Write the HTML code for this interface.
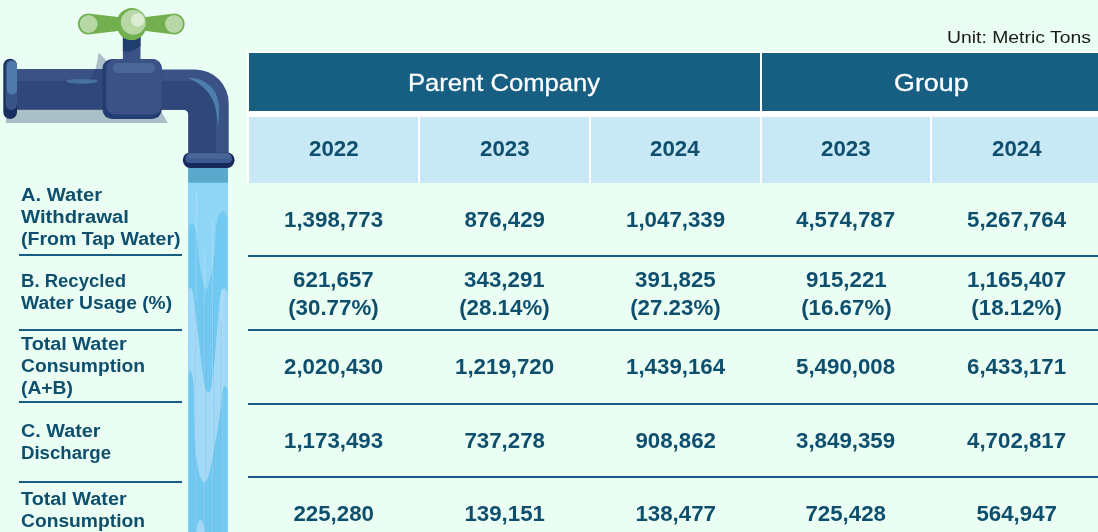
<!DOCTYPE html>
<html><head><meta charset="utf-8">
<style>
html,body{margin:0;padding:0;}
body{width:1098px;height:532px;overflow:hidden;background:#EBFEF3;position:relative;font-family:"Liberation Sans",sans-serif;}
.abs{position:absolute;}
.hdr{position:absolute;background:#165E82;color:#fff;font-size:24px;text-align:center;line-height:58px;top:53px;height:58px;}
.sub{position:absolute;background:#C9E8F5;top:117px;height:65.5px;color:#0F4F6E;font-weight:bold;font-size:21.4px;text-align:center;line-height:65px;}
.white{position:absolute;background:#fff;}
.num{position:absolute;width:170px;text-align:center;color:#0F4F6E;font-weight:bold;font-size:21.4px;line-height:27.5px;white-space:nowrap;}
.lbl{position:absolute;left:21px;color:#0F4F6E;font-weight:bold;font-size:18px;line-height:22px;white-space:nowrap;}
.num span,.sub span{display:inline-block;transform:scaleX(1.042);}
.hdr span{display:inline-block;-webkit-text-stroke:0.3px #fff;}
.lbl span{display:block;transform-origin:0 50%;}
.ln{position:absolute;background:#185C82;height:2px;}
</style></head><body>
<!-- white frame behind table header -->
<div class="white" style="left:247px;top:51px;width:860px;height:131.5px;"></div>
<div class="hdr" style="left:249px;width:510.5px;"><span style="transform:scaleX(1.066);position:relative;top:1px;">Parent Company</span></div>
<div class="hdr" style="left:761.5px;width:340px;"><span style="transform:scaleX(1.119);position:relative;top:1px;">Group</span></div>
<div class="sub" style="left:249px;width:169px;"><span>2022</span></div>
<div class="sub" style="left:420px;width:169px;"><span>2023</span></div>
<div class="sub" style="left:591px;width:168.5px;"><span>2024</span></div>
<div class="sub" style="left:761.5px;width:168.5px;"><span>2023</span></div>
<div class="sub" style="left:932px;width:170px;"><span>2024</span></div>
<div class="abs" style="right:7px;top:27.5px;font-size:16px;color:#1a1a1a;line-height:20px;transform:scaleX(1.21);transform-origin:100% 50%;">Unit: Metric Tons</div>

<!-- lines -->
<div class="ln" style="left:19px;width:163px;top:254px;"></div>
<div class="ln" style="left:19px;width:163px;top:329px;"></div>
<div class="ln" style="left:19px;width:163px;top:401px;"></div>
<div class="ln" style="left:19px;width:163px;top:481px;"></div>
<div class="ln" style="left:248px;width:860px;top:254.7px;"></div>
<div class="ln" style="left:248px;width:860px;top:329px;"></div>
<div class="ln" style="left:248px;width:860px;top:402.5px;"></div>
<div class="ln" style="left:248px;width:860px;top:476px;"></div>

<!-- labels -->
<div class="lbl" style="top:184.3px;"><span style="transform:scaleX(1.12)">A. Water</span><span style="transform:scaleX(1.125)">Withdrawal</span><span style="transform:scaleX(1.085)">(From Tap Water)</span></div>
<div class="lbl" style="top:270.4px;"><span style="transform:scaleX(1.029)">B. Recycled</span><span style="transform:scaleX(1.069)">Water Usage (%)</span></div>
<div class="lbl" style="top:333.4px;"><span style="transform:scaleX(1.1)">Total Water</span><span style="transform:scaleX(1.069)">Consumption</span><span style="transform:scaleX(1.07)">(A+B)</span></div>
<div class="lbl" style="top:420.4px;"><span style="transform:scaleX(1.1)">C. Water</span><span style="transform:scaleX(1.034)">Discharge</span></div>
<div class="lbl" style="top:488.2px;"><span style="transform:scaleX(1.1)">Total Water</span><span style="transform:scaleX(1.069)">Consumption</span></div>

<!-- numbers -->
<div class="num" style="left:248.5px;top:206.5px;"><span>1,398,773</span></div>
<div class="num" style="left:419.5px;top:206.5px;"><span>876,429</span></div>
<div class="num" style="left:590.5px;top:206.5px;"><span>1,047,339</span></div>
<div class="num" style="left:761px;top:206.5px;"><span>4,574,787</span></div>
<div class="num" style="left:932px;top:206.5px;"><span>5,267,764</span></div>

<div class="num" style="left:248.5px;top:267px;"><span>621,657<br>(30.77%)</span></div>
<div class="num" style="left:419.5px;top:267px;"><span>343,291<br>(28.14%)</span></div>
<div class="num" style="left:590.5px;top:267px;"><span>391,825<br>(27.23%)</span></div>
<div class="num" style="left:761px;top:267px;"><span>915,221<br>(16.67%)</span></div>
<div class="num" style="left:932px;top:267px;"><span>1,165,407<br>(18.12%)</span></div>

<div class="num" style="left:248.5px;top:354px;"><span>2,020,430</span></div>
<div class="num" style="left:419.5px;top:354px;"><span>1,219,720</span></div>
<div class="num" style="left:590.5px;top:354px;"><span>1,439,164</span></div>
<div class="num" style="left:761px;top:354px;"><span>5,490,008</span></div>
<div class="num" style="left:932px;top:354px;"><span>6,433,171</span></div>

<div class="num" style="left:248.5px;top:427.5px;"><span>1,173,493</span></div>
<div class="num" style="left:419.5px;top:427.5px;"><span>737,278</span></div>
<div class="num" style="left:590.5px;top:427.5px;"><span>908,862</span></div>
<div class="num" style="left:761px;top:427.5px;"><span>3,849,359</span></div>
<div class="num" style="left:932px;top:427.5px;"><span>4,702,817</span></div>

<div class="num" style="left:248.5px;top:501.3px;"><span>225,280</span></div>
<div class="num" style="left:419.5px;top:501.3px;"><span>139,151</span></div>
<div class="num" style="left:590.5px;top:501.3px;"><span>138,477</span></div>
<div class="num" style="left:761px;top:501.3px;"><span>725,428</span></div>
<div class="num" style="left:932px;top:501.3px;"><span>564,947</span></div>

<!--FAUCET_START-->
<svg class="abs" style="left:0;top:0;" width="260" height="532" viewBox="0 0 260 532">
<!-- shadow -->
<path d="M6 109 H160 L167.8 123 H6 Z" fill="#ABBFC6"/>
<path d="M98.6 52.6 L106 60 V72 H94.5 C96.5 66 97.8 59 98.6 52.6 Z" fill="#ABBFC6"/>
<!-- horizontal pipe -->
<rect x="12" y="69.2" width="95" height="40.6" fill="#2F4779"/>
<rect x="12" y="69.2" width="95" height="11.8" fill="#3A5285"/>
<path d="M94.5 69.2 C 93.5 75, 91 79, 86 81 H106 V69.2 Z" fill="#33497B"/>
<ellipse cx="82" cy="81.3" rx="15.6" ry="2.4" fill="#47719F"/>
<!-- flange -->
<rect x="3.3" y="58.7" width="13.7" height="60.2" rx="6.8" fill="#18305F"/>
<path d="M5.6 65.5 a5.7 5.7 0 0 1 11.4 0 V104.3 a5.7 5.7 0 0 1 -11.4 0 Z" fill="#3A5488"/>
<path d="M6.9 66 a5 5 0 0 1 10.1 0 V89.5 a5 5 0 0 1 -10.1 0 Z" fill="#4E7BAB"/>
<!-- elbow -->
<path d="M158 69.5 H195 A33.7 33.7 0 0 1 228.7 103.2 V156 H188.4 V115 Q188.4 109.8 183 109.8 H158 Z" fill="#3A5285"/>
<path d="M158 81 H191 A24.8 24.8 0 0 1 215.8 105.8 V156 H188.4 V115 Q188.4 109.8 183 109.8 H158 Z" fill="#2F4779"/>
<path d="M188 77.7 C 197 77.5, 207 81, 213.6 90 C 219 97.5, 220.5 110, 218 127.6 C 217.5 115, 215.5 104, 210.6 96 C 205 87, 197 82, 188 77.7 Z" fill="#4D7FAE"/>
<!-- valve body -->
<rect x="102.5" y="59" width="59.2" height="60" rx="9.5" fill="#233E72"/>
<path d="M106.2 68 a9 9 0 0 1 9 -9 H152.7 a9 9 0 0 1 9 9 V105.5 a9 9 0 0 1 -9 9 H115.2 a9 9 0 0 1 -9 -9 Z" fill="#3A5285"/>
<rect x="113" y="63" width="42" height="10" rx="4.5" fill="#4A6598"/>
<!-- stem -->
<rect x="122.9" y="34" width="17.6" height="26" fill="#3A5285"/>
<path d="M122.9 34 H140.5 V45.8 Q132 53.5 122.9 51 Z" fill="#1F3E6E"/>
<!-- handle -->
<path d="M88.3 13.5 L120 17.3 V30.7 L88.3 34.5 A10.5 10.5 0 0 1 88.3 13.5 Z" fill="#73AF4F"/>
<path d="M174.2 13.5 L144 17.3 V30.7 L174.2 34.5 A10.5 10.5 0 0 0 174.2 13.5 Z" fill="#73AF4F"/>
<ellipse cx="131.7" cy="24" rx="15.1" ry="16.1" fill="#73AF4F"/>
<circle cx="88.6" cy="24" r="8.9" fill="#B7D8A4"/>
<circle cx="174" cy="24" r="9" fill="#B7D8A4"/>
<circle cx="133.3" cy="22.2" r="12.4" fill="#B7D8A4"/>
<circle cx="137.6" cy="20" r="6.7" fill="#DCEBD3"/>
<!-- water -->
<rect x="188.2" y="167" width="39.7" height="366" fill="#71C8F0"/>
<path d="M188.2 182.6 H227.9 V222 C 226 206, 217 206, 215.5 235 C 214.5 260, 211 283, 206 290 C 202 283, 199 262, 197.5 245 C 196 220, 190 218, 188.2 232 Z" fill="#8FD5F5"/>
<path d="M188.2 296 C 188.6 285, 192.5 284, 194 300 C 195.5 315, 197.5 330, 198.8 340 C 200.5 355, 202.5 375, 204.5 385 C 205.5 390, 207 392, 208.5 392 C 210 392, 211.3 389, 212.3 382 C 214 368, 215.3 352, 216.3 340 C 217.5 326, 218.8 312, 219.7 300 C 221 285, 227 285, 227.9 297 V392 C 226.5 383, 223 383, 222 395 C 220 420, 214 450, 210 470 C 208.5 478, 206.5 482, 204.7 482 C 201 482, 197 470, 195 445 C 194.2 430, 194 410, 194 395 C 193.5 368, 189 366, 188.2 378 Z" fill="#A1D9F6"/>
<ellipse cx="200.5" cy="534" rx="4" ry="14" fill="#A1D9F6"/>
<rect x="188.2" y="167.6" width="39.7" height="15" fill="#5AA9CC"/>
<g stroke="#ffffff" stroke-opacity=".22" stroke-width="1">
<line x1="196.5" y1="190" x2="195" y2="532"/>
<line x1="204.6" y1="250" x2="204.6" y2="532"/>
<line x1="212.3" y1="220" x2="213" y2="532"/>
<line x1="222" y1="290" x2="222" y2="532"/>
</g>
<g stroke="#6E8FC0" stroke-opacity=".28" stroke-width="0.8">
<line x1="195.8" y1="300" x2="194.6" y2="532"/>
<line x1="205.3" y1="300" x2="205.3" y2="532"/>
<line x1="213.4" y1="300" x2="213.8" y2="532"/>
<line x1="221.3" y1="320" x2="221.3" y2="532"/>
</g>
<!-- spout ring -->
<rect x="182.9" y="152.4" width="51.6" height="15.5" rx="7.5" fill="#16295A"/>
<path d="M185.2 159 a6.6 6.6 0 0 1 6.6 -6.6 H225.6 a6.6 6.6 0 0 1 6.6 6.6 a4.5 4.5 0 0 1 -4.5 4 H189.7 a4.5 4.5 0 0 1 -4.5 -4 Z" fill="#3D5A90"/>
<rect x="187.5" y="153.6" width="42.4" height="5" rx="2.5" fill="#4A6699"/>
</svg>
<!--FAUCET_END-->
</body></html>
